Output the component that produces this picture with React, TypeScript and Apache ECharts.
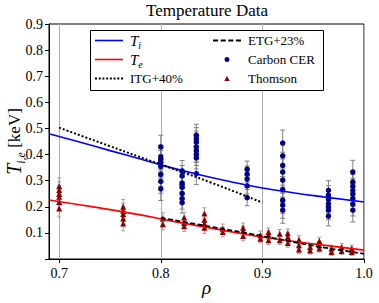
import React, { useEffect, useRef } from 'react';
import * as echarts from 'echarts';

const FONT = '"Liberation Serif", "DejaVu Serif", serif';

// Model profiles
const profileRho = [0.69, 0.72, 0.75, 0.78, 0.81, 0.84, 0.87, 0.90, 0.93, 0.96, 1.0];
const tiProfile = [0.480, 0.448, 0.415, 0.383, 0.350, 0.321, 0.295, 0.272, 0.254, 0.238, 0.218];
const teProfile = [0.226, 0.208, 0.189, 0.169, 0.146, 0.125, 0.104, 0.084, 0.068, 0.053, 0.034];
const itgRho = [0.70, 0.75, 0.80, 0.85, 0.90];
const itgValues = [0.503, 0.432, 0.362, 0.292, 0.216];
const etgRho = [0.80, 0.85, 0.90, 0.94, 0.97, 1.0];
const etgValues = [0.158, 0.123, 0.088, 0.058, 0.038, 0.020];

// Carbon CER (Ti) measurements
const carbonRho = [0.800, 0.821, 0.835, 0.885, 0.920, 0.965, 0.989];
const carbonTi = [
  [0.429, 0.391, 0.381, 0.371, 0.355, 0.324, 0.297, 0.269],
  [0.337, 0.318, 0.291, 0.284, 0.274, 0.251, 0.231, 0.216],
  [0.474, 0.461, 0.448, 0.429, 0.414, 0.400, 0.387, 0.327],
  [0.344, 0.325, 0.306, 0.280, 0.235],
  [0.444, 0.395, 0.359, 0.333, 0.302, 0.266, 0.225, 0.206, 0.187],
  [0.263, 0.244, 0.228, 0.212, 0.199, 0.187, 0.164],
  [0.333, 0.295, 0.279, 0.263, 0.248, 0.231, 0.210, 0.187],
];
const carbonErr = [0.045, 0.040, 0.042, 0.031, 0.050, 0.037, 0.045];

// Thomson (Te) measurements
const thomsonRho = [0.700, 0.763, 0.802, 0.823, 0.843, 0.861, 0.881, 0.898, 0.906, 0.917, 0.925, 0.936, 0.947, 0.956, 0.968, 0.978, 0.988];
const thomsonTe = [
  [0.279, 0.264, 0.249, 0.238, 0.218, 0.193],
  [0.200, 0.185, 0.172, 0.155, 0.136],
  [0.155, 0.133],
  [0.159, 0.138, 0.125],
  [0.174, 0.150, 0.135, 0.120],
  [0.116, 0.103],
  [0.120, 0.107, 0.088],
  [0.091, 0.078],
  [0.103, 0.091, 0.072],
  [0.097, 0.072],
  [0.099, 0.084, 0.061],
  [0.074, 0.053, 0.036],
  [0.046, 0.033],
  [0.069, 0.053, 0.040],
  [0.040, 0.027],
  [0.046, 0.031],
  [0.040, 0.027],
];
const thomsonErr = [0.032, 0.028, 0.022, 0.020, 0.022, 0.018, 0.018, 0.016, 0.016, 0.016, 0.016, 0.015, 0.014, 0.014, 0.013, 0.013, 0.013];

const xTicks = [0.7, 0.8, 0.9, 1.0];
const gridRho = [0.7, 0.8, 0.9, 1.0];

const zip = (xs: number[], ys: number[]) => xs.map((x, i) => [x, ys[i]]);

const carbonPoints = carbonRho.flatMap((r, i) => carbonTi[i].map((v) => [r, v]));
const carbonBars = carbonRho.flatMap((r, i) => carbonTi[i].map((v) => [r, v - carbonErr[i], v + carbonErr[i]]));
const thomsonPoints = thomsonRho.flatMap((r, i) => thomsonTe[i].map((v) => [r, v]));
const thomsonBars = thomsonRho.flatMap((r, i) => thomsonTe[i].map((v) => [r, v - thomsonErr[i], v + thomsonErr[i]]));

const errorRender = (capHalf: number, color: string, width: number) => (params: any, api: any) => {
  const x = api.value(0);
  const top = api.coord([x, api.value(2)]);
  const bot = api.coord([x, api.value(1)]);
  const style = { stroke: color, lineWidth: width };
  return {
    type: 'group',
    children: [
      { type: 'line', shape: { x1: top[0], y1: top[1], x2: bot[0], y2: bot[1] }, style },
      { type: 'line', shape: { x1: top[0] - capHalf, y1: top[1], x2: top[0] + capHalf, y2: top[1] }, style },
      { type: 'line', shape: { x1: bot[0] - capHalf, y1: bot[1], x2: bot[0] + capHalf, y2: bot[1] }, style },
    ],
  };
};

// legend icon shapes
const ICON_SOLID = 'path://M0,0h28v1.6h-28z';
const ICON_DOTTED = 'path://' + [0, 3.5, 7, 10.5, 14, 17.5, 21, 24.5].map((x) => `M${x},0h1.9v1.9h-1.9z`).join(' ');
const ICON_DASHED = 'path://' + [0, 7.5, 15, 22.5].map((x) => `M${x},0h5v1.8h-5z`).join(' ');
const ICON_TRI = 'path://M0,10L5.5,0L11,10Z';

const legendRich = {
  it: { fontFamily: FONT, fontStyle: 'italic', fontSize: 15, lineHeight: 19, verticalAlign: 'middle', color: '#000', padding: [0, 0, 0, 2] },
  sub: { fontFamily: FONT, fontStyle: 'italic', fontSize: 10, lineHeight: 10, verticalAlign: 'bottom', color: '#000' },
  n: { fontFamily: FONT, fontSize: 13, lineHeight: 19, verticalAlign: 'middle', color: '#000', padding: [0, 0, 0, 2] },
};
const legendFormatter = (name: string) => {
  if (name === 'Ti') return '{it|T}{sub|i}';
  if (name === 'Te') return '{it|T}{sub|e}';
  return '{n|' + name + '}';
};

export default function App() {
  const ref = useRef<HTMLDivElement>(null);
  useEffect(() => {
    if (!ref.current) return;
    const chart = echarts.init(ref.current, undefined, { renderer: 'svg' });
    const option: any = {
      animation: false,
      backgroundColor: '#fff',
      title: {
        text: 'Temperature Data',
        left: 207,
        textAlign: 'center',
        top: 2,
        padding: 0,
        textStyle: { fontFamily: FONT, fontSize: 17, fontWeight: 'normal', color: '#000' },
      },
      grid: {
        left: 49, top: 24, right: 15, bottom: 44,
        outerBoundsMode: 'none', containLabel: false,
        show: true, borderColor: '#000', borderWidth: 1, backgroundColor: 'transparent',
      },
      legend: [
        {
          data: [
            { name: 'Ti', icon: ICON_SOLID },
            { name: 'Te', icon: ICON_SOLID },
            { name: 'ITG+40%', icon: ICON_DOTTED },
          ],
          orient: 'vertical', left: 95, top: 31, padding: 0, itemGap: 0,
          itemWidth: 28, itemHeight: 5, symbolKeepAspect: true,
          formatter: legendFormatter,
          textStyle: { fontFamily: FONT, fontSize: 13, lineHeight: 19, color: '#000', rich: legendRich },
        },
        {
          data: [
            { name: 'ETG+23%', icon: ICON_DASHED },
            { name: 'Carbon CER', icon: 'circle' },
            { name: 'Thomson', icon: ICON_TRI },
          ],
          orient: 'vertical', left: 213, top: 31, padding: 0, itemGap: 0,
          itemWidth: 28, itemHeight: 5, symbolKeepAspect: true,
          formatter: legendFormatter,
          textStyle: { fontFamily: FONT, fontSize: 13, lineHeight: 19, color: '#000', rich: legendRich },
        },
      ],
      graphic: [
        {
          type: 'rect', z: 3, silent: true,
          shape: { x: 90.5, y: 30.5, width: 233, height: 60 },
          style: { fill: '#fff', stroke: '#000', lineWidth: 1 },
        },
        {
          type: 'group', z: 3, silent: true,
          children: [
            { type: 'line', shape: { x1: 227, y1: 53, x2: 227, y2: 67 }, style: { stroke: '#808080', lineWidth: 1 } },
            { type: 'line', shape: { x1: 225, y1: 53, x2: 229, y2: 53 }, style: { stroke: '#808080', lineWidth: 1 } },
            { type: 'line', shape: { x1: 225, y1: 67, x2: 229, y2: 67 }, style: { stroke: '#808080', lineWidth: 1 } },
            { type: 'line', shape: { x1: 227, y1: 73, x2: 227, y2: 86 }, style: { stroke: '#999', lineWidth: 1 } },
            { type: 'line', shape: { x1: 225, y1: 73, x2: 229, y2: 73 }, style: { stroke: '#999', lineWidth: 1 } },
            { type: 'line', shape: { x1: 225, y1: 86, x2: 229, y2: 86 }, style: { stroke: '#999', lineWidth: 1 } },
          ],
        },
      ],
      xAxis: {
        type: 'value', min: 0.69, max: 1.0,
        name: 'ρ', nameLocation: 'middle', nameGap: 19, nameMoveOverlap: false,
        nameTextStyle: { fontFamily: FONT, fontStyle: 'italic', fontSize: 19, color: '#000' },
        axisLine: { show: true, onZero: false, lineStyle: { color: '#000', width: 1 } },
        axisTick: { show: true, inside: false, length: 4, customValues: xTicks, lineStyle: { color: '#000' } },
        axisLabel: {
          customValues: xTicks, margin: 7, color: '#000', fontFamily: FONT, fontSize: 14,
          formatter: (v: number) => v.toFixed(1),
        },
        splitLine: { show: false },
      },
      yAxis: {
        type: 'value', min: 0, max: 0.9, interval: 0.1,
        name: '{t|T}{s|i,e} {n|[keV]}', nameLocation: 'middle', nameGap: 22, nameRotate: 90, nameMoveOverlap: false,
        nameTextStyle: {
          fontFamily: FONT, fontSize: 17, color: '#000',
          rich: {
            t: { fontFamily: FONT, fontStyle: 'italic', fontSize: 20, lineHeight: 23, verticalAlign: 'top', color: '#000' },
            s: { fontFamily: FONT, fontStyle: 'italic', fontSize: 12, lineHeight: 12, verticalAlign: 'bottom', color: '#000' },
            n: { fontFamily: FONT, fontSize: 17, lineHeight: 23, verticalAlign: 'top', color: '#000', padding: [2, 0, 0, 0] },
          },
        },
        axisLine: { show: true, onZero: false, lineStyle: { color: '#000', width: 1 } },
        axisTick: { show: true, inside: false, length: 4, lineStyle: { color: '#000' } },
        axisLabel: {
          margin: 6, color: '#000', fontFamily: FONT, fontSize: 14,
          formatter: (v: number) => (v === 0 ? '' : v.toFixed(1)),
        },
        splitLine: { show: false },
      },
      series: [
        {
          name: 'Ti', type: 'line', data: zip(profileRho, tiProfile), smooth: true,
          symbol: 'none', itemStyle: { color: '#0000ff' }, lineStyle: { color: '#0000ff', width: 1.6 }, z: 5,
          markLine: {
            silent: true, symbol: 'none', label: { show: false },
            lineStyle: { color: '#b0b0b0', width: 1, type: 'solid' },
            data: gridRho.map((r) => ({ xAxis: r })),
            z: 1,
          },
        },
        {
          name: 'Te', type: 'line', data: zip(profileRho, teProfile), smooth: true,
          symbol: 'none', itemStyle: { color: '#ff0000' }, lineStyle: { color: '#ff0000', width: 1.6 }, z: 5,
        },
        {
          name: 'ITG+40%', type: 'line', data: zip(itgRho, itgValues), smooth: true,
          symbol: 'none', itemStyle: { color: '#000' }, lineStyle: { color: '#000', width: 2, type: 'dotted' }, z: 6,
        },
        {
          name: 'ETG+23%', type: 'line', data: zip(etgRho, etgValues), smooth: true,
          symbol: 'none', itemStyle: { color: '#000' }, lineStyle: { color: '#000', width: 1.8, type: [5, 2.5] }, z: 6,
        },
        {
          name: 'Carbon CER err', type: 'custom', data: carbonBars, encode: { x: 0, y: [1, 2] },
          renderItem: errorRender(2.5, '#808080', 1), z: 3,
        },
        {
          name: 'Carbon CER', type: 'scatter', data: carbonPoints, symbol: 'circle', symbolSize: 5.5,
          itemStyle: { color: '#00008b', opacity: 1 }, z: 4,
        },
        {
          name: 'Thomson err', type: 'custom', data: thomsonBars, encode: { x: 0, y: [1, 2] },
          renderItem: errorRender(2, '#a0a0a0', 1), z: 3,
        },
        {
          name: 'Thomson', type: 'scatter', data: thomsonPoints, symbol: 'triangle', symbolSize: 6,
          itemStyle: { color: '#8b0000', opacity: 1 }, z: 4,
        },
      ],
    };
    chart.setOption(option);
    return () => chart.dispose();
  }, []);
  return (
    <div
      ref={ref}
      style={{ position: 'fixed', left: 0, top: 0, width: 379, height: 303, background: '#fff' }}
    />
  );
}
